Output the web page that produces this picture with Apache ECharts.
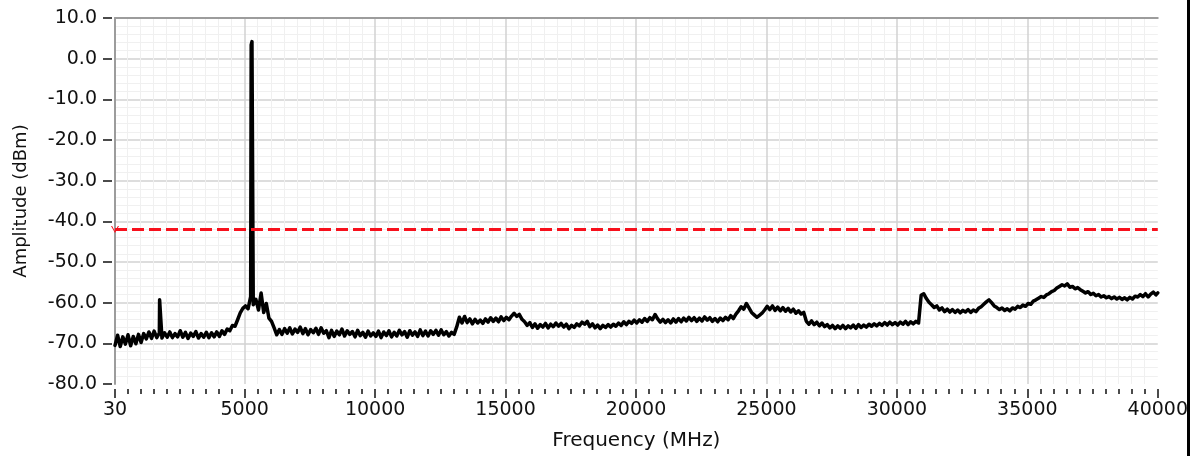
<!DOCTYPE html>
<html>
<head>
<meta charset="utf-8">
<script src="https://cdn.jsdelivr.net/npm/echarts@6/dist/echarts.min.js"></script>
<style>
  html, body { margin: 0; padding: 0; background: #fff; }
  #chart { width: 1191px; height: 456px; }
</style>
</head>
<body>
<div id="chart"></div>
<script>
// Spectrum sweep, 30 MHz – 40 GHz, sampled every 100 MHz (amplitudes in dBm)
const SAMPLE_STEP_MHZ = 100;

const band1Start = 30;   // 30 – 4930 MHz
const band1Db = [
  -70.5, -68.0, -70.8, -68.4, -70.2, -67.9, -70.6, -68.3, -70.1, -67.8,
  -69.8, -67.6, -68.9, -67.2, -68.8, -67.0, -68.6, -67.5, -68.7, -67.4,
  -68.5, -67.2, -68.6, -67.6, -68.4, -66.9, -68.5, -67.3, -68.8, -67.5,
  -68.3, -67.1, -68.7, -67.6, -68.5, -67.3, -68.6, -67.4, -68.4, -67.2,
  -68.3, -66.9, -67.8, -66.5, -66.9, -65.6, -65.8, -64.2, -62.5, -61.4
];

const band2Start = 5030; // 5030 – 9930 MHz
const band2Db = [
  -60.8, -61.5, -58.5, -60.5, -59.2, -61.8, -57.6, -62.4, -60.2, -63.8,
  -64.6, -66.2, -67.9, -66.6, -67.8, -66.4, -67.5, -66.2, -67.7, -66.5,
  -67.3, -66.0, -67.6, -66.4, -67.9, -66.6, -67.4, -66.3, -67.8, -66.2,
  -67.5, -66.9, -68.6, -66.8, -68.3, -67.0, -67.9, -66.5, -68.2, -66.9,
  -67.8, -67.1, -68.4, -66.8, -68.1, -67.3, -68.5, -67.0, -68.2, -67.4
];

const band3Start = 10030; // 10030 – 14930 MHz
const band3Db = [
  -68.3, -67.0, -68.6, -67.2, -68.1, -66.9, -68.4, -67.3, -68.2, -66.8,
  -67.9, -67.1, -68.5, -66.9, -68.0, -67.2, -68.3, -66.7, -68.1, -67.0,
  -68.2, -66.9, -67.8, -66.8, -68.0, -66.7, -67.9, -67.1, -68.2, -67.3,
  -67.8, -65.9, -63.6, -65.0, -63.4, -64.9, -64.0, -65.2, -64.1, -65.0,
  -64.3, -65.1, -64.0, -64.8, -63.7, -64.6, -63.8, -64.7, -63.5, -64.4
];

const band4Start = 15030; // 15030 – 19930 MHz
const band4Db = [
  -63.6, -64.2, -63.3, -62.6, -63.4, -62.9, -64.1, -64.7, -65.6, -64.9,
  -66.1, -65.2, -66.3, -65.4, -66.0, -65.1, -66.2, -65.3, -65.9, -65.0,
  -65.8, -65.1, -66.0, -65.3, -66.4, -65.6, -66.1, -65.2, -65.7, -64.8,
  -65.3, -64.6, -65.9, -65.2, -66.2, -65.5, -66.4, -65.6, -66.1, -65.4,
  -66.0, -65.3, -65.8, -65.0, -65.6, -64.7, -65.4, -64.6, -65.1, -64.3
];

const band5Start = 20030; // 20030 – 24930 MHz
const band5Db = [
  -65.0, -64.2, -64.8, -63.9, -64.6, -63.7, -64.2, -62.9, -64.0, -64.8,
  -64.1, -64.9, -64.2, -65.0, -64.0, -64.8, -63.9, -64.7, -63.8, -64.5,
  -63.6, -64.4, -63.7, -64.6, -63.8, -64.5, -63.5, -64.3, -63.7, -64.6,
  -63.9, -64.7, -63.8, -64.4, -63.6, -64.2, -63.2, -63.9, -62.8, -62.0,
  -61.0, -61.6, -60.2, -61.3, -62.4, -63.0, -63.6, -63.1, -62.6, -61.8
];

const band6Start = 25030; // 25030 – 29930 MHz
const band6Db = [
  -60.9, -61.7, -60.8, -61.9, -61.1, -62.0, -61.2, -62.1, -61.4, -62.3,
  -61.6, -62.6, -62.0, -62.8, -62.4, -64.6, -65.3, -64.5, -65.4, -64.8,
  -65.7, -65.0, -65.9, -65.4, -66.2, -65.6, -66.4, -65.7, -66.3, -65.6,
  -66.4, -65.7, -66.2, -65.5, -66.3, -65.4, -66.1, -65.5, -66.0, -65.3,
  -65.8, -65.2, -65.7, -65.1, -65.6, -64.9, -65.5, -64.8, -65.4, -64.9
];

const band7Start = 30030; // 30030 – 34930 MHz
const band7Db = [
  -65.5, -64.8, -65.3, -64.6, -65.4, -64.7, -65.2, -64.6, -65.0, -58.2,
  -57.8, -59.0, -59.9, -60.5, -61.2, -60.8, -61.8, -61.3, -62.2, -61.6,
  -62.3, -61.7, -62.4, -61.8, -62.5, -61.9, -62.3, -61.7, -62.4, -61.8,
  -62.2, -61.4, -61.0, -60.4, -59.8, -59.3, -60.0, -60.8, -61.2, -61.7,
  -61.3, -61.9, -61.5, -62.0, -61.3, -61.6, -60.9, -61.2, -60.6, -60.9
];

const band8Start = 35030; // 35030 – 39930 MHz
const band8Db = [
  -60.2, -60.4, -59.6, -59.3, -58.9, -58.5, -58.7, -58.1, -57.8, -57.3,
  -57.0, -56.4, -56.0, -55.6, -55.9, -55.4, -56.2, -56.0, -56.6, -56.3,
  -56.8, -57.2, -57.6, -57.3, -58.0, -57.7, -58.3, -58.0, -58.6, -58.3,
  -58.8, -58.5, -59.0, -58.6, -59.1, -58.7, -59.2, -58.8, -59.3, -58.7,
  -59.1, -58.4, -58.6, -58.0, -58.5, -57.8, -58.6, -57.9, -57.4, -58.1
];
const endPoint = [40000, -57.6];

// Narrow carriers: [MHz, dBm]
const spikePoints = [
  [1740, -59.3], [1770, -59.6],
  [5250, 3.4], [5280, 4.2]
];

// Limit line
const thresholdDb = -42;

// Axis ticks
const freqMajorTicks = [30, 5000, 10000, 15000, 20000, 25000, 30000, 35000, 40000];
const freqMinorStep = 500;
const ampMin = -80, ampMax = 10, ampStep = 10;

function bandPoints(start, values) {
  return values.map((v, i) => [start + i * SAMPLE_STEP_MHZ, v]);
}

const trace = [].concat(
  bandPoints(band1Start, band1Db),
  bandPoints(band2Start, band2Db),
  bandPoints(band3Start, band3Db),
  bandPoints(band4Start, band4Db),
  bandPoints(band5Start, band5Db),
  bandPoints(band6Start, band6Db),
  bandPoints(band7Start, band7Db),
  bandPoints(band8Start, band8Db),
  [endPoint],
  spikePoints
).sort((a, b) => a[0] - b[0]);

const freqMinorTicks = [];
for (let f = freqMinorStep; f < 40000; f += freqMinorStep) {
  if (f % 5000 !== 0) freqMinorTicks.push(f);
}

const FONT = 'DejaVu Sans';
const fMin = freqMajorTicks[0], fMax = freqMajorTicks[freqMajorTicks.length - 1];

const majorGrid = '#d2d2d2';
const borderGrey = '#9c9c9c';
const clear = 'rgba(0,0,0,0)';

const chart = echarts.init(document.getElementById('chart'), null, { renderer: 'canvas' });

chart.setOption({
  animation: false,
  backgroundColor: '#fff',
  grid: { left: 115, right: 32, top: 18, bottom: 71 },
  xAxis: [
    {
      type: 'value', min: fMin, max: fMax, position: 'bottom', offset: 5,
      axisLine: { show: false, onZero: false },
      axisTick: { show: true, customValues: freqMajorTicks, length: 9, inside: false,
                  lineStyle: { color: '#111', width: 1.5 } },
      axisLabel: { show: true, customValues: freqMajorTicks, margin: 12,
                   fontFamily: FONT, fontSize: 19, color: '#111',
                   formatter: v => String(v) },
      splitLine: { show: true, lineStyle: { width: 1.5,
                   color: [clear, majorGrid, majorGrid, majorGrid, majorGrid,
                           majorGrid, majorGrid, majorGrid, clear] } },
      name: 'Frequency (MHz)', nameLocation: 'middle', nameGap: 42,
      nameTextStyle: { fontFamily: FONT, fontSize: 20, color: '#111' }
    },
    {
      type: 'value', min: fMin, max: fMax, position: 'bottom', offset: 5,
      axisLine: { show: false, onZero: false },
      axisTick: { show: true, customValues: freqMinorTicks, length: 5,
                  lineStyle: { color: '#111', width: 1.5 } },
      axisLabel: { show: false },
      splitLine: { show: true, lineStyle: { color: '#f0f0f0', width: 1 } }
    },
    {
      type: 'value', min: fMin, max: fMax, position: 'top',
      axisLine: { show: true, onZero: false, lineStyle: { color: borderGrey, width: 2 } },
      axisTick: { show: false }, axisLabel: { show: false }, splitLine: { show: false }
    }
  ],
  yAxis: [
    {
      type: 'value', min: ampMin, max: ampMax, interval: ampStep, position: 'left',
      axisLine: { show: true, onZero: false, lineStyle: { color: borderGrey, width: 2 } },
      axisTick: { show: false },
      axisLabel: { show: false },
      minorTick: { show: false, splitNumber: 5 },
      minorSplitLine: { show: true, lineStyle: { color: '#f0f0f0', width: 1 } },
      splitLine: { show: true, lineStyle: { width: 1.5,
                   color: [clear, majorGrid, majorGrid, majorGrid, majorGrid,
                           majorGrid, majorGrid, majorGrid, majorGrid, clear] } }
    },
    {
      type: 'value', min: ampMin, max: ampMax, interval: ampStep, position: 'left', offset: 3,
      axisLine: { show: false, onZero: false },
      axisTick: { show: true, length: 9, lineStyle: { color: '#111', width: 1.5 } },
      axisLabel: { show: true, margin: 15, fontFamily: FONT, fontSize: 19, color: '#111',
                   formatter: v => v.toFixed(1) },
      splitLine: { show: false },
      name: 'Amplitude (dBm)', nameLocation: 'middle', nameGap: 82,
      nameTextStyle: { fontFamily: FONT, fontSize: 18, color: '#111' }
    }
  ],
  series: [
    {
      type: 'line',
      xAxisIndex: 0, yAxisIndex: 0,
      data: trace,
      showSymbol: false,
      symbol: 'none',
      lineStyle: { color: '#000', width: 3.5, join: 'round', cap: 'round' },
      z: 3,
      markLine: {
        silent: true,
        symbol: ['path://M10,0 L0,5 L10,10 L10,8.6 L2.6,5 L10,1.4 Z', 'none'],
        symbolSize: [7, 8],
        label: { show: false },
        lineStyle: { color: '#f7101c', width: 3, type: [12, 5] },
        data: [{ yAxis: thresholdDb }]
      }
    }
  ],
  graphic: [
    { type: 'rect', z: 100, shape: { x: 1187, y: 0, width: 3, height: 456 },
      style: { fill: '#000' } },
    { type: 'rect', z: 100, shape: { x: 1190, y: 0, width: 1, height: 456 },
      style: { fill: '#fff' } }
  ]
});
</script>
</body>
</html>
